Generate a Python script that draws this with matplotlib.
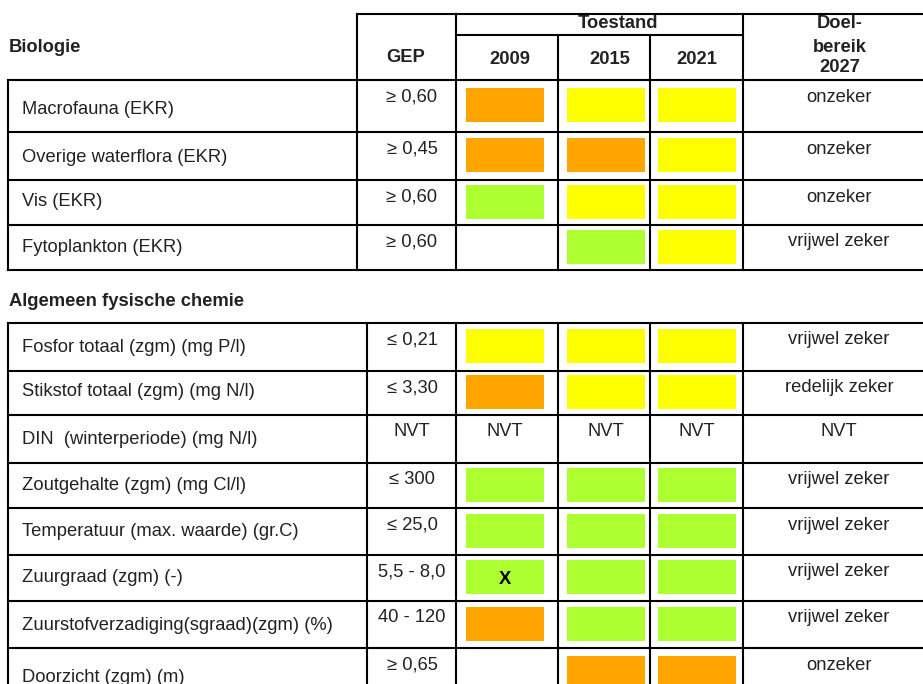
import matplotlib
matplotlib.use('Agg')
import matplotlib.pyplot as plt
from matplotlib.patches import Rectangle

plt.rcParams['font.family'] = ['Liberation Sans', 'DejaVu Sans']

# Table content
years = ['2009', '2015', '2021']

bio_names = ['Macrofauna (EKR)', 'Overige waterflora (EKR)', 'Vis (EKR)',
             'Fytoplankton (EKR)']
bio_gep = ['≥ 0,60', '≥ 0,45', '≥ 0,60', '≥ 0,60']
bio_2009 = ['oranje', 'oranje', 'groen', '']
bio_2015 = ['geel', 'oranje', 'geel', 'groen']
bio_2021 = ['geel', 'geel', 'geel', 'geel']
bio_doel = ['onzeker', 'onzeker', 'onzeker', 'vrijwel zeker']

chem_names = ['Fosfor totaal (zgm) (mg P/l)', 'Stikstof totaal (zgm) (mg N/l)',
              'DIN  (winterperiode) (mg N/l)', 'Zoutgehalte (zgm) (mg Cl/l)',
              'Temperatuur (max. waarde) (gr.C)', 'Zuurgraad (zgm) (-)',
              'Zuurstofverzadiging(sgraad)(zgm) (%)', 'Doorzicht (zgm) (m)']
chem_gep = ['≤ 0,21', '≤ 3,30', 'NVT', '≤ 300', '≤ 25,0', '5,5 - 8,0',
            '40 - 120', '≥ 0,65']
chem_2009 = ['geel', 'oranje', 'NVT', 'groen', 'groen', 'groen', 'oranje', '']
chem_2015 = ['geel', 'geel', 'NVT', 'groen', 'groen', 'groen', 'groen', 'oranje']
chem_2021 = ['geel', 'geel', 'NVT', 'groen', 'groen', 'groen', 'groen', 'oranje']
chem_doel = ['vrijwel zeker', 'redelijk zeker', 'NVT', 'vrijwel zeker',
             'vrijwel zeker', 'vrijwel zeker', 'vrijwel zeker', 'onzeker']
chem_marks = ['', '', '', '', '', 'X', '', '']

colors = {'oranje': '#ffa500', 'geel': '#ffff00', 'groen': '#adff2f'}

# Layout (pixels)
W, H = 923, 684
bio_rows = [80, 132, 180, 225, 270]
chem_rows = [323, 371, 415, 463, 508, 555, 601, 648, 700]
col_left = 8
bio_gep_x = 357
chem_gep_x = 367
year_x = [456, 558, 650, 743]
right = 940
box_cx = [505, 606, 696.5]
box_w = 78
box_h = 34
txt = '#222222'
fs = 13.2
lw = 1.5

fig = plt.figure(figsize=(W / 100, H / 100), dpi=100)
ax = fig.add_axes([0, 0, 1, 1])
ax.set_xlim(0, W)
ax.set_ylim(H, 0)
ax.axis('off')


def hline(y, x0, x1):
    ax.plot([x0, x1], [y, y], color='black', lw=lw, solid_capstyle='projecting')


def vline(x, y0, y1):
    ax.plot([x, x], [y0, y1], color='black', lw=lw, solid_capstyle='projecting')


def draw_block(rows, gep_x, names, gep, c2009, c2015, c2021, doel, marks=None):
    # grid
    for y in rows:
        hline(y, col_left, right)
    for x in [col_left, gep_x] + year_x:
        vline(x, rows[0], rows[-1])
    states = [c2009, c2015, c2021]
    for i, name in enumerate(names):
        top, bot = rows[i], rows[i + 1]
        ax.text(22, bot - 23, name, fontsize=fs, color=txt, va='center', ha='left')
        ax.text(412, top + 17, gep[i], fontsize=fs, color=txt, va='center', ha='center')
        ax.text(839, top + 17, doel[i], fontsize=fs, color=txt, va='center', ha='center')
        for j in range(3):
            s = states[j][i]
            if s in colors:
                y0 = top + (bot - top - box_h) / 2 - 1
                ax.add_patch(Rectangle((box_cx[j] - box_w / 2, y0), box_w, box_h,
                                       facecolor=colors[s], edgecolor='none'))
                if marks and marks[i] and j == 0:
                    ax.text(box_cx[j], y0 + box_h / 2 + 2, marks[i], fontsize=fs,
                            fontweight='bold', color='black', ha='center', va='center')
            elif s:
                ax.text(box_cx[j], top + 17, s, fontsize=fs, color=txt,
                        va='center', ha='center')


# Header
hline(14, bio_gep_x, right)
hline(35, year_x[0], year_x[3])
for x in [bio_gep_x, year_x[0], year_x[3]]:
    vline(x, 14, 80)
for x in year_x[1:3]:
    vline(x, 35, 80)

ax.text(9, 47, 'Biologie', fontsize=fs, fontweight='bold', color=txt, va='center')
ax.text(406, 58, 'GEP', fontsize=fs, fontweight='bold', color=txt, va='center', ha='center')
ax.text(618, 23, 'Toestand', fontsize=fs, fontweight='bold', color=txt, va='center', ha='center')
for cx, yr in zip([510, 610, 697], years):
    ax.text(cx, 59, yr, fontsize=fs, fontweight='bold', color=txt, va='center', ha='center')
for yy, line in zip([24, 47, 68], ['Doel-', 'bereik', '2027']):
    ax.text(840, yy, line, fontsize=fs, fontweight='bold', color=txt, va='center', ha='center')

draw_block(bio_rows, bio_gep_x, bio_names, bio_gep, bio_2009, bio_2015, bio_2021, bio_doel)

ax.text(9, 302, 'Algemeen fysische chemie', fontsize=fs, fontweight='bold', color=txt,
        va='center')

draw_block(chem_rows, chem_gep_x, chem_names, chem_gep, chem_2009, chem_2015, chem_2021,
           chem_doel, chem_marks)

fig.savefig('out.png', dpi=100)
